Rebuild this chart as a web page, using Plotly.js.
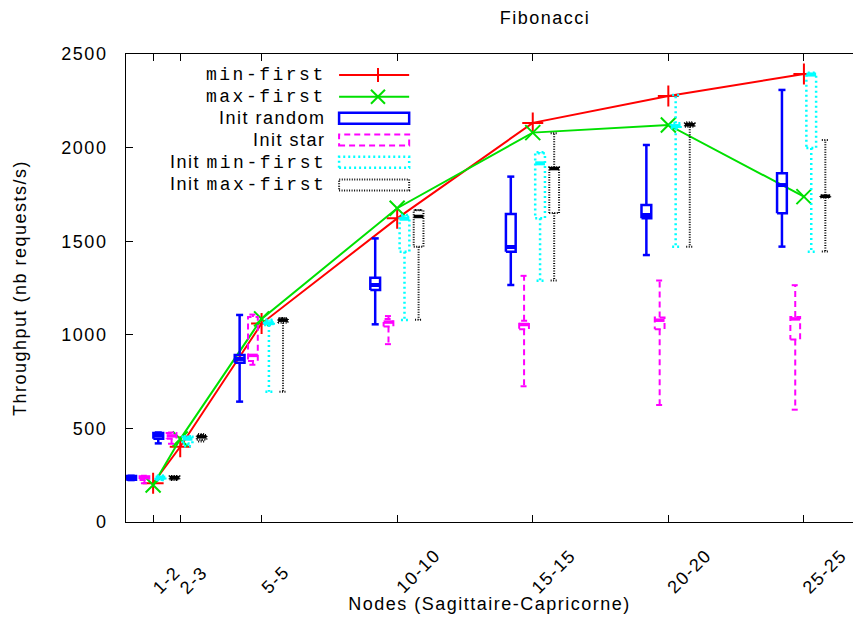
<!DOCTYPE html>
<html>
<head>
<meta charset="utf-8">
<script src="https://cdn.plot.ly/plotly-3.0.1.min.js"></script>
<style>
  html, body { margin: 0; padding: 0; background: #fff; }
  svg text { letter-spacing: 1.5px; }
</style>
</head>
<body>
<div id="chart" style="width:853px;height:618px;"></div>
<script>
// ---------------- data ----------------
const xPos = [1, 2, 5, 10, 15, 20, 25];
const xLabels = ['1-2', '2-3', '5-5', '10-10', '15-15', '20-20', '25-25'];
const yTicks = [0, 500, 1000, 1500, 2000, 2500];

const minFirst = [207, 402, 1060, 1622, 2132, 2276, 2393];
const maxFirst = [198, 443, 1085, 1676, 2080, 2121, 1738];

// Init random
const randomLow  = [224, 420, 643, 1056, 1266, 1426, 1471];
const randomQ1   = [226, 445, 851, 1239, 1444, 1622, 1649];
const randomMed  = [237, 462, 871, 1266, 1469, 1640, 1800];
const randomQ3   = [246, 475, 892, 1305, 1645, 1693, 1863];
const randomHigh = [247, 478, 1106, 1515, 1845, 2014, 2308];

// Init star
const starLow  = [207, 418, 840, 950, 725, 625, 600];
const starQ1   = [225, 445, 860, 1045, 1030, 1030, 975];
const starMed  = [237, 460, 890, 1068, 1055, 1078, 1085];
const starQ3   = [245, 475, 1095, 1085, 1075, 1092, 1095];
const starHigh = [247, 478, 1108, 1100, 1315, 1290, 1265];

// Init min-first
const minInitLow  = [224, 405, 696, 1079, 1289, 1471, 1444];
const minInitQ1   = [226, 420, 1052, 1444, 1622, 2103, 1998];
const minInitMed  = [237, 445, 1062, 1620, 1916, 2115, 2390];
const minInitQ3   = [246, 455, 1075, 1631, 1970, 2130, 2395];
const minInitHigh = [247, 458, 1080, 1640, 1975, 2281, 2400];

// Init max-first
const maxInitLow  = [225, 430, 696, 1080, 1290, 1470, 1445];
const maxInitQ1   = [227, 440, 1065, 1470, 1650, 2112, 1733];
const maxInitMed  = [237, 455, 1078, 1632, 1888, 2122, 1740];
const maxInitQ3   = [245, 465, 1088, 1665, 1895, 2130, 1745];
const maxInitHigh = [246, 470, 1090, 1667, 2076, 2135, 2040];

// ---------------- style ----------------
const SANS = 'Liberation Sans, Arial, sans-serif';
const MONO = 'Liberation Mono';
const FS = 18;
const BOX_W = 0.36, CAP_W = 0.26;

function boxTraces(lo, q1, med, q3, hi, offset, color, dash, width) {
  const bx = [], by = [], mx = [], my = [];
  for (let i = 0; i < xPos.length; i++) {
    const c = xPos[i] + offset, h = BOX_W / 2, k = CAP_W / 2;
    bx.push(c - h, c + h, c + h, c - h, c - h, null); by.push(q1[i], q1[i], q3[i], q3[i], q1[i], null);
    bx.push(c, c, null); by.push(q3[i], hi[i], null);
    bx.push(c - k, c + k, null); by.push(hi[i], hi[i], null);
    bx.push(c, c, null); by.push(q1[i], lo[i], null);
    bx.push(c - k, c + k, null); by.push(lo[i], lo[i], null);
    mx.push(c - h, c + h, null); my.push(med[i], med[i], null);
  }
  return [
    {type: 'scatter', mode: 'lines', x: bx, y: by, connectgaps: false,
     line: {color: color, width: width, dash: dash}, hoverinfo: 'skip', showlegend: false},
    {type: 'scatter', mode: 'lines', x: mx, y: my, connectgaps: false,
     line: {color: color, width: width + 1.5}, hoverinfo: 'skip', showlegend: false}
  ];
}

const traces = [
  {type: 'scatter', mode: 'lines+markers', x: xPos, y: minFirst, name: 'min-first',
   line: {color: '#ff0000', width: 2},
   marker: {symbol: 'cross-thin', size: 15, color: '#ff0000', line: {color: '#ff0000', width: 2}}},
  {type: 'scatter', mode: 'lines+markers', x: xPos, y: maxFirst, name: 'max-first',
   line: {color: '#00e000', width: 2},
   marker: {symbol: 'x-thin', size: 15, color: '#00e000', line: {color: '#00e000', width: 2}}},
  ...boxTraces(randomLow, randomQ1, randomMed, randomQ3, randomHigh, -0.81, '#0000ff', 'solid', 2.5),
  ...boxTraces(starLow, starQ1, starMed, starQ3, starHigh, -0.32, '#ff00ff', '6px,4px', 2),
  ...boxTraces(minInitLow, minInitQ1, minInitMed, minInitQ3, minInitHigh, 0.27, '#00ffff', '2px,3px', 2.5),
  ...boxTraces(maxInitLow, maxInitQ1, maxInitMed, maxInitQ3, maxInitHigh, 0.79, '#000000', '1px,1.5px', 2)
];

// ---------------- custom gnuplot-style key ----------------
const monoSpan = t => '<span style="font-family:' + MONO + ';letter-spacing:2.5px">' + t + '</span>';
const keyRows = [0.9551, 0.9088, 0.8626, 0.8162, 0.7686, 0.7201];
const keyTextX = 0.2779, keyX0 = 0.2931, keyX1 = 0.3895, keyMid = 0.3466;
const keyLabels = [
  monoSpan('min-first'),
  monoSpan('max-first'),
  'Init random',
  'Init star',
  'Init ' + monoSpan('min-first'),
  'Init ' + monoSpan('max-first')
];
const annotations = keyLabels.map((t, i) => ({
  xref: 'paper', yref: 'paper', x: keyTextX, y: keyRows[i], xanchor: 'right', yanchor: 'middle',
  text: t, showarrow: false, font: {family: SANS, size: FS, color: '#000'}
}));

// x tick labels, gnuplot style (text starts just below the tick, rising at 45 degrees)
xLabels.forEach((t, i) => annotations.push({
  xref: 'x', yref: 'paper', x: xPos[i], y: -0.1645, xanchor: 'left', yanchor: 'bottom',
  xshift: -6, textangle: -45, text: t, showarrow: false, borderpad: 0,
  font: {family: SANS, size: FS, color: '#000'}
}));

const dx = 7 / 727, dy = 7 / 468, bh = 5.5 / 468;
const shapes = [
  {type: 'line', xref: 'paper', yref: 'paper', x0: keyX0, x1: keyX1, y0: keyRows[0], y1: keyRows[0], line: {color: '#ff0000', width: 2}},
  {type: 'line', xref: 'paper', yref: 'paper', x0: keyMid - dx, x1: keyMid + dx, y0: keyRows[0], y1: keyRows[0], line: {color: '#ff0000', width: 2}},
  {type: 'line', xref: 'paper', yref: 'paper', x0: keyMid, x1: keyMid, y0: keyRows[0] - dy, y1: keyRows[0] + dy, line: {color: '#ff0000', width: 2}},
  {type: 'line', xref: 'paper', yref: 'paper', x0: keyX0, x1: keyX1, y0: keyRows[1], y1: keyRows[1], line: {color: '#00e000', width: 2}},
  {type: 'line', xref: 'paper', yref: 'paper', x0: keyMid - dx, x1: keyMid + dx, y0: keyRows[1] - dy, y1: keyRows[1] + dy, line: {color: '#00e000', width: 2}},
  {type: 'line', xref: 'paper', yref: 'paper', x0: keyMid - dx, x1: keyMid + dx, y0: keyRows[1] + dy, y1: keyRows[1] - dy, line: {color: '#00e000', width: 2}},
  {type: 'rect', xref: 'paper', yref: 'paper', x0: keyX0, x1: keyX1, y0: keyRows[2] - bh, y1: keyRows[2] + bh, line: {color: '#0000ff', width: 2.5}},
  {type: 'rect', xref: 'paper', yref: 'paper', x0: keyX0, x1: keyX1, y0: keyRows[3] - bh, y1: keyRows[3] + bh, line: {color: '#ff00ff', width: 2, dash: '6px,4px'}},
  {type: 'rect', xref: 'paper', yref: 'paper', x0: keyX0, x1: keyX1, y0: keyRows[4] - bh, y1: keyRows[4] + bh, line: {color: '#00ffff', width: 2.5, dash: '2px,3px'}},
  {type: 'rect', xref: 'paper', yref: 'paper', x0: keyX0, x1: keyX1, y0: keyRows[5] - bh, y1: keyRows[5] + bh, line: {color: '#000000', width: 2, dash: '1px,1.5px'}}
];

const layout = {
  width: 853, height: 618,
  margin: {l: 126, r: 0, t: 54, b: 96, pad: 0},
  paper_bgcolor: '#fff', plot_bgcolor: '#fff',
  showlegend: false,
  font: {family: SANS, size: FS, color: '#000'},
  title: {text: 'Fibonacci', x: 545 / 853, xanchor: 'center', y: 1 - 18 / 618, yanchor: 'middle',
          font: {family: SANS, size: FS, color: '#000'}},
  xaxis: {
    range: [0, 26.81], tickmode: 'array', tickvals: xPos, ticktext: xLabels, showticklabels: false,
    ticks: 'inside', ticklen: 7, tickwidth: 1, tickcolor: '#000',
    showline: true, linecolor: '#000', linewidth: 1, mirror: 'ticks',
    showgrid: false, zeroline: false,
    title: {text: 'Nodes (Sagittaire-Capricorne)', font: {family: SANS, size: FS, color: '#000'}, standoff: 75}
  },
  yaxis: {
    range: [0, 2500], tickmode: 'array', tickvals: yTicks,
    ticks: 'inside', ticklen: 7, tickwidth: 1, tickcolor: '#000',
    showline: true, linecolor: '#000', linewidth: 1, mirror: false,
    showgrid: false, zeroline: false,
    ticklabelstandoff: 14,
    tickfont: {family: SANS, size: FS, color: '#000'},
    title: {text: 'Throughput (nb requests/s)', font: {family: SANS, size: FS, color: '#000'}, standoff: 30}
  },
  annotations: annotations,
  shapes: shapes
};

Plotly.newPlot('chart', traces, layout, {displayModeBar: false, staticPlot: true});
</script>
</body>
</html>
